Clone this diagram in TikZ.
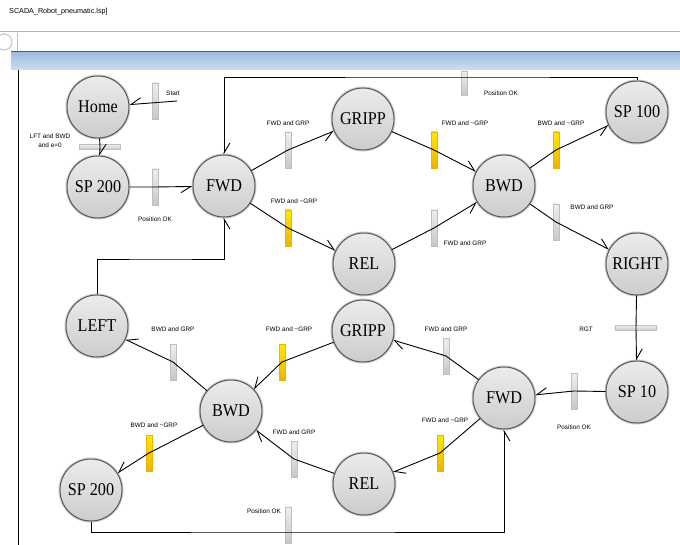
\documentclass[tikz,border=0pt]{standalone}
\usepackage{fontspec}
\setmainfont{Liberation Serif}
\setsansfont{Liberation Sans}
\newfontfamily\placefont[FakeStretch=0.9]{Liberation Serif}
\usetikzlibrary{arrows.meta}
\definecolor{cBarHi}{RGB}{238,238,238}
\definecolor{cBarLo}{RGB}{200,200,200}
\definecolor{cYelHi}{RGB}{255,234,0}
\definecolor{cYelLo}{RGB}{238,178,0}
\definecolor{cBandHi}{RGB}{160,190,222}
\definecolor{cBandLo}{RGB}{206,222,240}
\definecolor{cPlHi}{RGB}{236,236,236}
\definecolor{cPlLo}{RGB}{204,204,204}

\begin{document}
\begin{tikzpicture}[x=1pt, y=-1pt,
  place/.style = {circle, minimum size=62pt, inner sep=0pt,
                  top color=cPlHi, bottom color=cPlLo, draw=black!65, line width=1pt,
                  preaction={draw=black!20, line width=3pt},
                  font=\placefont\fontsize{18}{18}\selectfont},
  bar/.style   = {rectangle, inner sep=0pt, minimum width=6pt, minimum height=36pt,
                  top color=cBarHi, bottom color=cBarLo, draw=black!25, line width=0.4pt},
  ybar/.style  = {bar, top color=cYelHi, bottom color=cYelLo, draw=cYelLo},
  hbar/.style  = {bar, minimum width=41pt, minimum height=5pt},
  cond/.style  = {font=\sffamily\fontsize{6.4}{9}\selectfont, inner sep=0pt, align=center},
  flow/.style  = {line width=0.9pt, -{Straight Barb[harpoon,swap,length=10pt,width=12pt]}},
  flowl/.style = {line width=0.9pt, -{Straight Barb[harpoon,length=10pt,width=12pt]}}
]
\useasboundingbox[fill=white] (0,0) rectangle (680,545);

% ------------------------------------------------------------------ places --
\node[place] (home)   at (98,107)  {Home};
\node[place] (sp200a) at (98,187)  {SP 200};
\node[place] (fwdA)   at (224,186) {FWD};
\node[place] (gripA)  at (363,119) {GRIPP};
\node[place] (bwdA)   at (504,186) {BWD};
\node[place] (sp100)  at (637,112) {SP 100};
\node[place] (relA)   at (364,264) {REL};
\node[place] (rgt)    at (637,264) {RIGHT};
\node[place] (lft)    at (97,326)  {LEFT};
\node[place] (gripB)  at (363,331) {GRIPP};
\node[place] (sp10)   at (637,392) {SP 10};
\node[place] (fwdB)   at (504,398) {FWD};
\node[place] (bwdB)   at (231,411) {BWD};
\node[place] (relB)   at (364,484) {REL};
\node[place] (sp200b) at (91,490)  {SP 200};

% ------------------------------------------------------------- transitions --
\node[bar]  (t1)  at (155,101) {};
\node[hbar] (t2)  at (100,147) {};
\node[bar]  (t3)  at (155,187) {};
\node[bar]  (t4)  at (288,150) {};
\node[ybar] (t5)  at (434,150) {};
\node[ybar] (t6)  at (556,150) {};
\node[ybar] (t7)  at (288,228) {};
\node[bar]  (t8)  at (434,228) {};
\node[bar]  (t9)  at (556,222) {};
\node[hbar] (t10) at (636,328) {};
\node[bar]  (t11) at (574,391) {};
\node[bar]  (t12) at (446,356) {};
\node[ybar] (t13) at (282,362) {};
\node[bar]  (t14) at (173,362) {};
\node[ybar] (t15) at (149,453) {};
\node[bar]  (t16) at (294,459) {};
\node[ybar] (t17) at (440,453) {};
\node[bar]  (t18) at (288,525) {};
\node[bar, minimum height=24pt] (t19) at (464,83) {};

% -------------------------------------------------------------- conditions --
\node[cond] (c1)  at (173,93)  {Start};
\node[cond] (c2)  at (50,141)  {LFT and BWD\\and e=0};
\node[cond] (c3)  at (155,219) {Position OK};
\node[cond] (c4)  at (288,123) {FWD and GRP};
\node[cond] (c5)  at (465,123) {FWD and \textasciitilde GRP};
\node[cond] (c6)  at (561,123) {BWD and \textasciitilde GRP};
\node[cond] (c7)  at (294,201) {FWD and \textasciitilde GRP};
\node[cond] (c8)  at (465,243) {FWD and GRP};
\node[cond] (c9)  at (592,207) {BWD and GRP};
\node[cond] (c10) at (586,329) {RGT};
\node[cond] (c11) at (574,427) {Position OK};
\node[cond] (c12) at (446,329) {FWD and GRP};
\node[cond] (c13) at (289,329) {FWD and \textasciitilde GRP};
\node[cond] (c14) at (173,329) {BWD and GRP};
\node[cond] (c15) at (154,425) {BWD and \textasciitilde GRP};
\node[cond] (c16) at (294,432) {FWD and GRP};
\node[cond] (c17) at (445,420) {FWD and \textasciitilde GRP};
\node[cond] (c18) at (264,511) {Position OK};
\node[cond] (c19) at (501,93)  {Position OK};

% ------------------------------------------------------------------- arcs --
\coordinate (sIn)  at (177,101);
\coordinate (topL) at (464,77);
\coordinate (lftL) at (160,259);
\coordinate (botL) at (288,532);

\draw[flow]  (sIn) -- (home);
\draw[flowl] (home) -- (t2.center) -- (sp200a);
\draw[flow]  (sp200a) -- (t3.center) -- (fwdA);
\draw[flow]  (fwdA) -- (t4.center) -- (gripA);
\draw[flowl] (gripA) -- (t5.center) -- (bwdA);
\draw[flow]  (bwdA) -- (t6.center) -- (sp100);
\draw[flowl] (fwdA) -- (t7.center) -- (relA);
\draw[flow]  (relA) -- (t8.center) -- (bwdA);
\draw[flowl] (bwdA) -- (t9.center) -- (rgt);
\draw[flowl] (rgt) -- (t10.center) -- (sp10);
\draw[flow]  (sp10) -- (t11.center) -- (fwdB);
\draw[flowl] (fwdB) -- (t12.center) -- (gripB);
\draw[flow]  (gripB) -- (t13.center) -- (bwdB);
\draw[flow]  (bwdB) -- (t14.center) -- (lft);
\draw[flow]  (bwdB) -- (t15.center) -- (sp200b);
\draw[flowl] (relB) -- (t16.center) -- (bwdB);
\draw[flowl] (fwdB) -- (t17.center) -- (relB);
\draw[flowl] (sp100.north) |- (topL) -| (fwdA.north);
\draw[flow]  (lft.north) |- (lftL) -| (fwdA.south);
\draw[flow]  (sp200b.south) |- (botL) -| (fwdB.south);

% ---------------------------------------------------------- window chrome --
\node[font=\sffamily\fontsize{7.2}{8}\selectfont, anchor=west, inner sep=0pt]
  (title) at (9,12) {SCADA\_Robot\_pneumatic.lsp]};
\draw[black!30, line width=1pt] (0,32) -- (680,32);
\draw[black!20, line width=1.2pt] (4,42) circle (8);
\draw[black!25] (17,33) -- (17,52);
\draw[black!65, line width=1.5pt] (11,52) -- (680,52);
\shade[top color=cBandHi, bottom color=cBandLo] (11,53) rectangle (680,70);
\draw[line width=1pt] (18,70) -- (18,545);

\end{tikzpicture}
\end{document}
